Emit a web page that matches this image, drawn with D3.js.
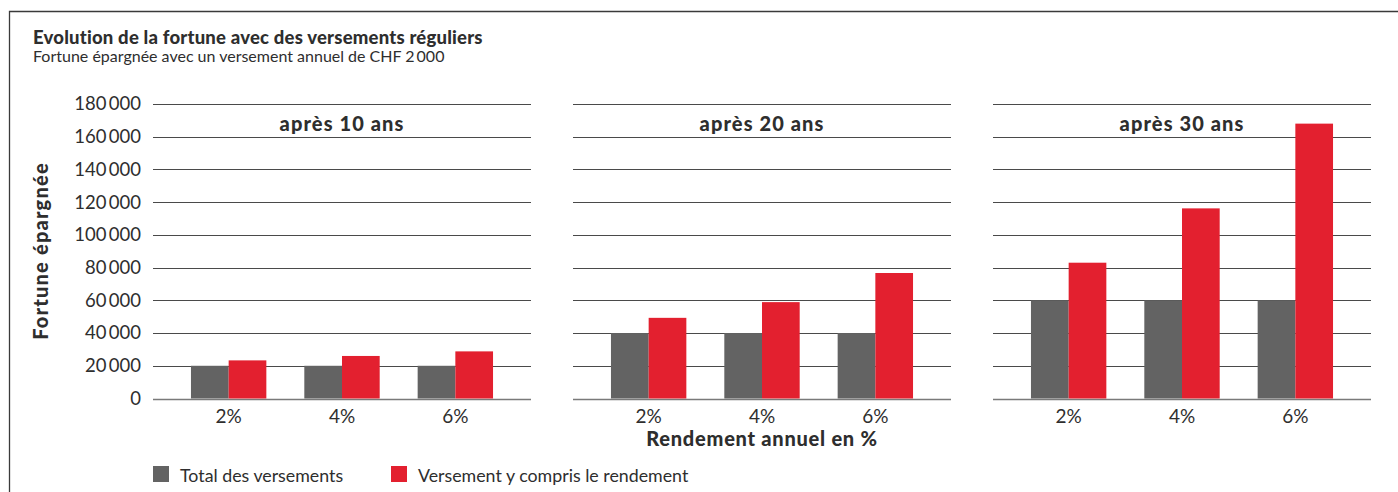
<!DOCTYPE html>
<html>
<head>
<meta charset="utf-8">
<script src="https://cdn.jsdelivr.net/npm/d3@7"></script>
<style>
  body { margin: 0; background: #fff; }
  svg text { font-family: Lato, "Open Sans", sans-serif; fill: #2e2e2e; }
</style>
</head>
<body>
<svg id="chart"></svg>
<script>
"use strict";

let width = 1398;
let height = 492;

// data
const panels = ["après 10 ans", "après 20 ans", "après 30 ans"];
const rates = ["2%", "4%", "6%"];
const seriesNames = ["Total des versements", "Versement y compris le rendement"];
const seriesColors = ["#636363", "#e3202f"];
const totalVersements = [[20000, 20000, 20000], [40000, 40000, 40000], [60000, 60000, 60000]];
const avecRendement = [[23300, 26000, 28800], [49300, 58900, 76700], [83000, 116200, 168000]];
const yTicks = [0, 20000, 40000, 60000, 80000, 100000, 120000, 140000, 160000, 180000];

let svg = d3.select('#chart').attr('width', width).attr('height', height);

let fmt = d3.formatLocale({decimal: ",", thousands: "\u2009", grouping: [3], currency: ["", ""]}).format(",d");

// frame
svg.append("path")
    .attr("d", "M9.5," + height + "V11.5H" + width)
    .attr("fill", "none")
    .attr("stroke", "#3a3a3a")
    .attr("stroke-width", 1.3);

svg.append("text")
    .attr("x", 33).attr("y", 44)
    .style("font-size", "18.5px").style("font-weight", "900")
    .style("letter-spacing", "0.2px")
    .text("Evolution de la fortune avec des versements réguliers");
svg.append("text")
    .attr("x", 33).attr("y", 62)
    .style("font-size", "16px")
    .text("Fortune épargnée avec un versement annuel de CHF 2\u2009000");

// scales
var y = d3.scaleLinear().domain([0, 180000]).range([398.5, 104]);
var xPanel = d3.scaleBand().domain(panels).range([153, 1371]).paddingInner(0.1);
var xRate = d3.scaleBand().domain(rates).range([0, xPanel.bandwidth()]).padding(0.335);
var xSeries = d3.scaleBand().domain([0, 1]).range([0, xRate.bandwidth()]);

// y axis labels
svg.append("g")
    .attr("transform", "translate(153,0)")
    .call(d3.axisLeft(y).tickValues(yTicks).tickFormat(fmt).tickSize(0).tickPadding(12))
    .call(g => g.select(".domain").remove())
    .selectAll("text")
    .style("font-size", "18.5px")
    .style("font-family", "Lato, sans-serif")
    .attr("fill", "#2e2e2e");

svg.append("text")
    .attr("transform", "translate(48,251)rotate(-90)")
    .attr("text-anchor", "middle")
    .style("font-size", "20px").style("font-weight", "900")
    .style("letter-spacing", "1.2px")
    .text("Fortune épargnée");

panels.forEach(function(p, i) {
    let g = svg.append("g").attr("transform", "translate(" + xPanel(p) + ",0)");

    // gridlines
    g.selectAll("line.grid")
        .data(yTicks)
        .enter()
        .append("line")
        .attr("class", "grid")
        .attr("x1", 0).attr("x2", xPanel.bandwidth())
        .attr("y1", d => Math.round(y(d)) + 0.5)
        .attr("y2", d => Math.round(y(d)) + 0.5)
        .attr("stroke", d => d === 0 ? "#7a7a7a" : "#4a4a4a")
        .attr("stroke-width", d => d === 0 ? 1.6 : 1.2);

    let rows = rates.map((r, j) => ({rate: r, values: [totalVersements[i][j], avecRendement[i][j]]}));

    let groups = g.selectAll("g.rate")
        .data(rows)
        .enter()
        .append("g")
        .attr("transform", d => "translate(" + xRate(d.rate) + ",0)");

    groups.selectAll("rect")
        .data(d => d.values)
        .enter()
        .append("rect")
        .attr("x", (d, k) => xSeries(k))
        .attr("y", d => y(d))
        .attr("width", xSeries.bandwidth())
        .attr("height", d => y(0) - y(d))
        .style("fill", (d, k) => seriesColors[k]);

    // x axis labels
    g.append("g")
        .attr("transform", "translate(0," + y(0) + ")")
        .call(d3.axisBottom(xRate).tickSize(0).tickPadding(11))
        .call(a => a.select(".domain").remove())
        .selectAll("text")
        .style("font-size", "19px")
        .style("font-family", "Lato, sans-serif")
        .attr("fill", "#2e2e2e");

    g.append("text")
        .attr("x", xPanel.bandwidth() / 2)
        .attr("y", 131)
        .attr("text-anchor", "middle")
        .style("font-size", "20px").style("font-weight", "900")
        .style("letter-spacing", "1.1px")
        .text(p);
});

svg.append("text")
    .attr("x", xPanel(panels[1]) + xPanel.bandwidth() / 2)
    .attr("y", 446)
    .attr("text-anchor", "middle")
    .style("font-size", "20px").style("font-weight", "900")
    .style("letter-spacing", "0.75px")
    .text("Rendement annuel en %");

// legend
let legendX = [153, 391];
let legend = svg.selectAll("g.legend")
    .data(seriesNames)
    .enter()
    .append("g")
    .attr("transform", (d, k) => "translate(" + legendX[k] + ",466)");
legend.append("rect")
    .attr("width", 16).attr("height", 16)
    .style("fill", (d, k) => seriesColors[k]);
legend.append("text")
    .attr("x", 27).attr("y", 15.5)
    .style("font-size", "17.8px")
    .text(d => d);
</script>
</body>
</html>
